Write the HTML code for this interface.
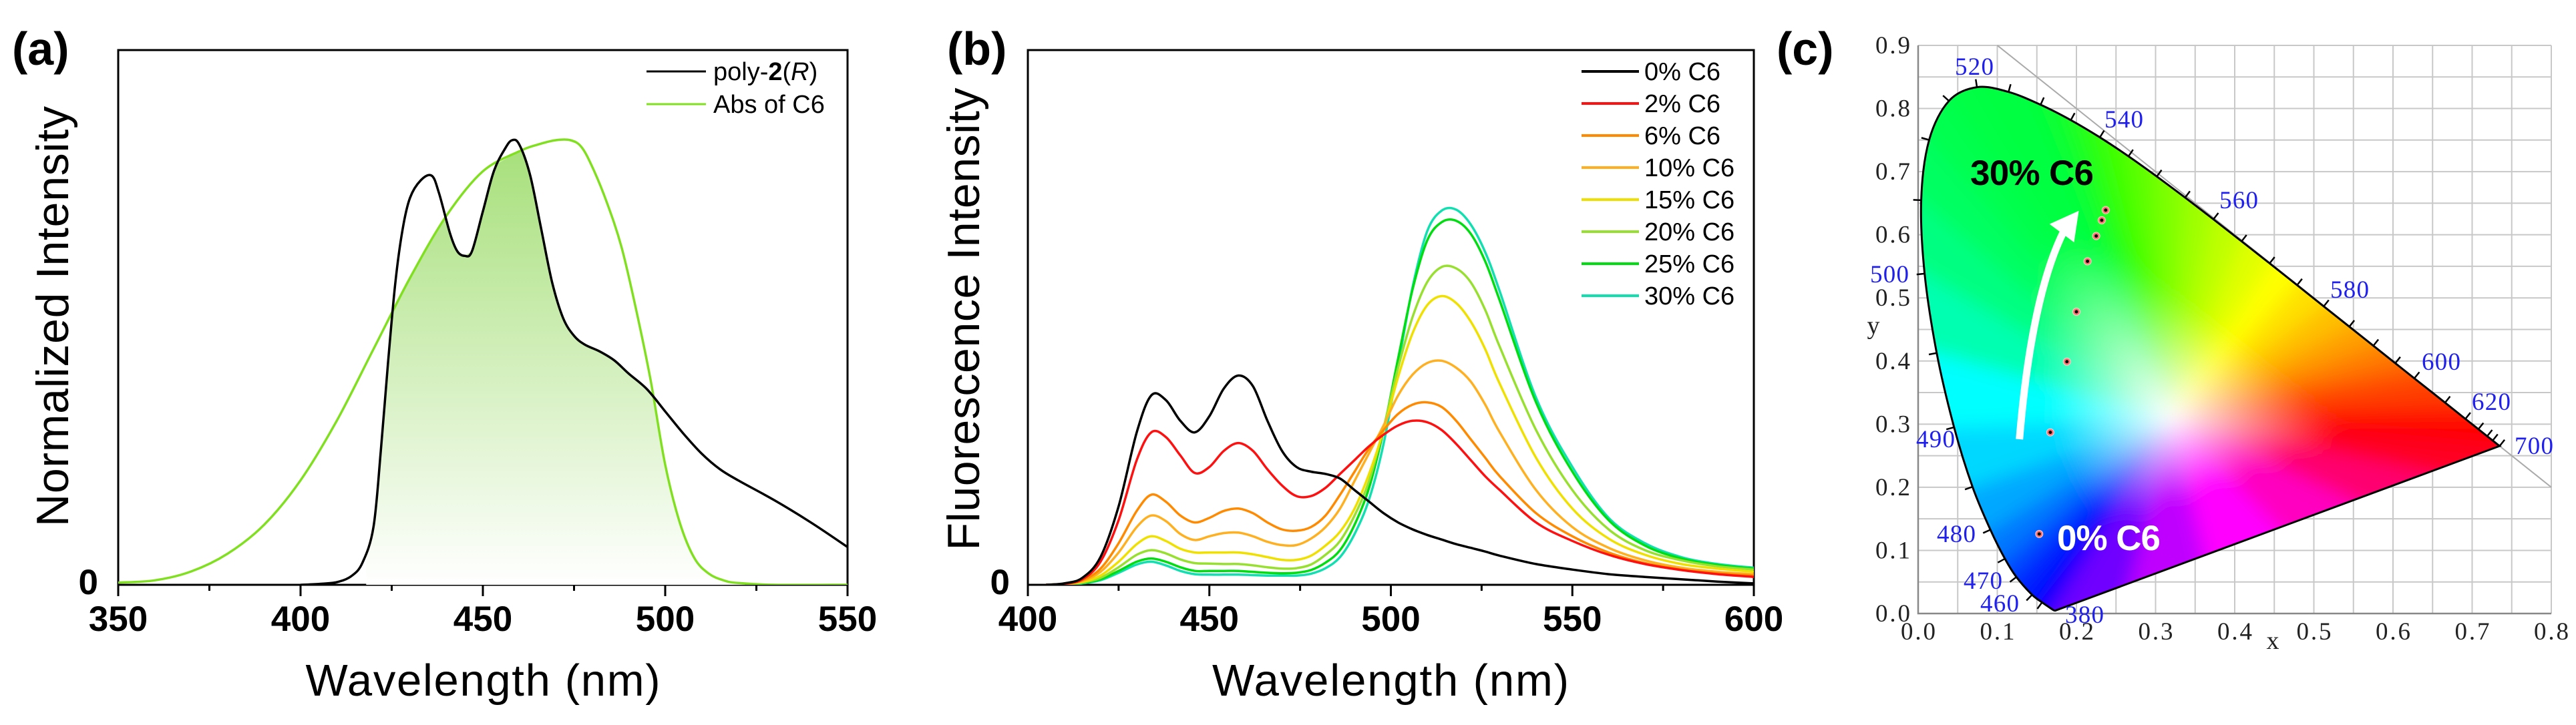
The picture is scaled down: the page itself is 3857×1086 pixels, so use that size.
<!DOCTYPE html>
<html><head><meta charset="utf-8"><style>
html,body{margin:0;padding:0;background:#fff;}
svg{display:block;font-family:"Liberation Sans",Arial,sans-serif;}
.serif{font-family:"Liberation Serif","Times New Roman",serif;}
</style></head><body>
<svg id="fig" width="3857" height="1086" viewBox="0 0 3857 1086" xmlns="http://www.w3.org/2000/svg">
<defs>
<linearGradient id="fillA" x1="0" y1="0" x2="0" y2="1"><stop offset="0" stop-color="#a8e07c"/><stop offset="1" stop-color="#ffffff"/></linearGradient>
<clipPath id="clipA"><rect x="177" y="75" width="1092" height="801"/></clipPath>
<clipPath id="clipB"><rect x="1539" y="75" width="1087" height="801"/></clipPath>
<filter id="blurC" x="-20%" y="-20%" width="140%" height="140%"><feGaussianBlur stdDeviation="14"/></filter>
<clipPath id="clipLocus"><path id="locusClipPath" d=""/></clipPath>
</defs>

<!-- Panel a -->
<g id="panelA">
<text x="18" y="97" font-size="70" font-weight="bold">(a)</text>
<rect x="177" y="75" width="1092" height="801" fill="none" stroke="#000" stroke-width="3"/>
<g id="fillLayerA" clip-path="url(#clipA)"></g>
<g id="seriesA" clip-path="url(#clipA)"></g>
<g id="ticksA"></g>
<text x="147" y="890" font-size="53" font-weight="bold" text-anchor="end">0</text>
<text x="723" y="1042" font-size="67" text-anchor="middle" textLength="531">Wavelength (nm)</text>
<text transform="translate(102,474) rotate(-90)" font-size="68" text-anchor="middle" textLength="630">Normalized Intensity</text>
<g>
<line x1="968" y1="107" x2="1057" y2="107" stroke="#000" stroke-width="3"/>
<text x="1068" y="120" font-size="38">poly-<tspan font-weight="bold">2</tspan>(<tspan font-style="italic">R</tspan>)</text>
<line x1="968" y1="156" x2="1057" y2="156" stroke="#80e020" stroke-width="3"/>
<text x="1068" y="169" font-size="38">Abs of C6</text>
</g>
</g>

<!-- Panel b -->
<g id="panelB">
<text x="1418" y="97" font-size="70" font-weight="bold">(b)</text>
<rect x="1539" y="75" width="1087" height="801" fill="none" stroke="#000" stroke-width="3"/>
<g id="seriesB" clip-path="url(#clipB)"></g>
<g id="ticksB"></g>
<text x="1512" y="890" font-size="53" font-weight="bold" text-anchor="end">0</text>
<text x="2082" y="1042" font-size="67" text-anchor="middle" textLength="534">Wavelength (nm)</text>
<text transform="translate(1466,478) rotate(-90)" font-size="68" text-anchor="middle" textLength="693">Fluorescence Intensity</text>
<g id="legendB"></g>
</g>

<!-- Panel c -->
<g id="panelC">
<text x="2660" y="97" font-size="70" font-weight="bold">(c)</text>
<g id="gridC"></g>
<g clip-path="url(#clipLocus)"><g id="cieFill" filter="url(#blurC)"></g></g>
<g id="cieOutline"></g>
<g id="cieTicks"></g>
<g id="cieLabels" class="serif"></g>
<g id="cieAxisLabels" class="serif"></g>
<g id="cieAnnot"></g>
</g>
</svg>
<script>
var NS='http://www.w3.org/2000/svg';
function mk(tag,attrs,parent){var e=document.createElementNS(NS,tag);for(var k in attrs)e.setAttribute(k,attrs[k]);if(parent)parent.appendChild(e);return e;}
function smooth(pts){var d='M'+pts[0][0].toFixed(1)+','+pts[0][1].toFixed(1);
 for(var i=0;i<pts.length-1;i++){var p0=pts[i-1]||pts[i],p1=pts[i],p2=pts[i+1],p3=pts[i+2]||p2;
  var c1=[p1[0]+(p2[0]-p0[0])/6,p1[1]+(p2[1]-p0[1])/6],c2=[p2[0]-(p3[0]-p1[0])/6,p2[1]-(p3[1]-p1[1])/6];
  d+=' C'+c1[0].toFixed(1)+','+c1[1].toFixed(1)+' '+c2[0].toFixed(1)+','+c2[1].toFixed(1)+' '+p2[0].toFixed(1)+','+p2[1].toFixed(1);}
 return d;}
function interp(xs,ys,x){if(x<=xs[0])return ys[0];for(var i=0;i<xs.length-1;i++){if(x<=xs[i+1]){var t=(x-xs[i])/(xs[i+1]-xs[i]);return ys[i]+t*(ys[i+1]-ys[i]);}}return ys[ys.length-1];}
</script>
<script>
// ---------- Panel (a) data ----------
var wlPoly=[400,405,410,414,417,420,422,424,426,428,430,433,436,438,441,443,445,447,450,453,456,458,460,463,466,469,472,475,478,482,486,490,495,500,505,510,515,520,530,540,550];
var valPoly=[0,0.002,0.006,0.02,0.05,0.13,0.3,0.5,0.68,0.8,0.87,0.91,0.92,0.88,0.79,0.75,0.74,0.75,0.84,0.93,0.98,1.0,0.99,0.92,0.8,0.68,0.6,0.56,0.54,0.525,0.505,0.475,0.44,0.39,0.34,0.295,0.26,0.235,0.19,0.14,0.085];
var wlAbs=[350,360,370,380,390,400,410,420,430,440,450,460,465,470,474,477,480,484,488,492,496,500,504,508,512,516,520,530,550];
var valAbs=[0.005,0.01,0.03,0.07,0.135,0.235,0.37,0.53,0.69,0.83,0.93,0.975,0.99,1.0,1.0,0.985,0.94,0.86,0.76,0.62,0.46,0.27,0.14,0.06,0.025,0.01,0.004,0,0];
var ticksA=[350,400,450,500,550];
function xA(w){return 177+(w-350)*1092/200;}
function yA(v){return 876-v*666;}
(function(){
 var g=document.getElementById('seriesA'),fl=document.getElementById('fillLayerA'),tk=document.getElementById('ticksA');
 var pts=[];for(var w=418;w<=522;w+=0.5){pts.push([xA(w),yA(Math.min(interp(wlPoly,valPoly,w),interp(wlAbs,valAbs,w)))]);}
 var d='M'+xA(418)+','+yA(0)+' L'+pts.map(function(p){return p[0].toFixed(1)+','+p[1].toFixed(1);}).join(' L')+' L'+xA(522)+','+yA(0)+' Z';
 var f=mk('path',{d:d,fill:'url(#fillA)'},fl);
 
 
 var pa=mk('path',{d:smooth(wlAbs.map(function(w,i){return [xA(w),yA(valAbs[i])];})),fill:'none',stroke:'#80e020','stroke-width':3.5},g);
 
 
 var pp=mk('path',{d:smooth(wlPoly.map(function(w,i){return [xA(w),yA(valPoly[i])];})),fill:'none',stroke:'#000','stroke-width':3.5},g);
 
 
 var b0=mk('line',{x1:xA(350),y1:yA(0),x2:xA(400),y2:yA(0),stroke:'#000','stroke-width':3},g);
 
 
 for(var w=350;w<=550;w+=25){var major=(w%50===0);
  var l=mk('line',{x1:xA(w),y1:876,x2:xA(w),y2:876+(major?17:9),stroke:'#000','stroke-width':3},tk);
  
  }
 ticksA.forEach(function(w){var t=mk('text',{x:xA(w),y:945,'font-size':53,'font-weight':'bold','text-anchor':'middle'},tk);t.textContent=String(w);
  
  });
})();
</script>
<script>
// ---------- Panel (b) data ----------
var wlB=[405,410,415,420,425,430,434,438,442,446,450,454,458,462,466,470,474,478,482,486,490,494,498,502,506,510,514,518,522,526,530,540,550,560,570,580,590,600];
var c0=[0,3,15,60,170,330,410,400,355,330,365,425,453,430,355,290,255,245,240,230,205,180,155,135,120,108,98,88,80,72,63,45,33,23,17,12,7,3];
var c2=[0,2,12,50,140,270,330,320,280,242,255,290,307,290,250,215,192,192,210,240,270,300,325,345,355,352,335,305,270,235,205,135,95,65,45,32,23,17];
var c6=[0,2,10,35,90,160,195,180,150,135,145,160,165,155,135,120,117,125,150,195,245,295,335,370,390,395,385,355,315,275,235,155,105,70,47,33,25,20];
var c10=[0,2,8,28,70,125,150,138,110,97,105,112,113,105,93,86,86,100,125,165,225,285,345,410,455,480,485,470,440,390,330,205,125,80,53,37,28,23];
var c15=[0,2,6,20,50,88,105,95,78,70,70,70,70,66,60,54,54,63,85,115,165,240,335,450,545,605,625,610,570,510,435,275,165,100,65,45,35,28];
var c20=[0,1,5,15,38,65,75,68,55,47,46,45,45,42,38,35,36,44,65,95,150,225,340,470,580,655,688,685,655,595,515,335,205,120,75,53,40,33];
var c25=[0,1,4,12,30,50,57,50,38,30,30,30,30,28,26,25,26,32,48,75,130,210,335,490,640,745,785,788,760,700,615,395,245,140,85,57,43,35];
var c30=[0,1,3,10,26,44,50,42,30,23,22,22,22,21,20,20,20,24,36,60,110,185,305,475,645,765,810,812,780,720,635,405,255,145,90,60,45,37];
var seriesNamesB=['0% C6','2% C6','6% C6','10% C6','15% C6','20% C6','25% C6','30% C6'];
var ticksB=[400,450,500,550,600];
var colorsB=['#000000','#ff1010','#ff8a00','#ffb020','#f0e000','#98e030','#00dd10','#10e0b0'];
function xB(w){return 1539+(w-400)*1087/200;}
function yB(v){return 876-v*0.692;}
(function(){
 var g=document.getElementById('seriesB'),tk=document.getElementById('ticksB'),lg=document.getElementById('legendB');
 var all=[c0,c2,c6,c10,c15,c20,c25,c30];
 for(var s=all.length-1;s>=0;s--){var vals=all[s];
  var p=mk('path',{d:smooth(wlB.map(function(w,i){return [xB(w),yB(vals[i])];})),fill:'none',stroke:colorsB[s],'stroke-width':3.5},g);
  
  }
 for(var w=400;w<=600;w+=25){var major=(w%50===0);
  var l=mk('line',{x1:xB(w),y1:876,x2:xB(w),y2:876+(major?17:9),stroke:'#000','stroke-width':3},tk);
  
  }
 ticksB.forEach(function(w){var t=mk('text',{x:xB(w),y:945,'font-size':53,'font-weight':'bold','text-anchor':'middle'},tk);t.textContent=String(w);
  
  });
 seriesNamesB.forEach(function(n,i){var y=107+i*48;
  var l=mk('line',{x1:2368,y1:y,x2:2454,y2:y,stroke:colorsB[i],'stroke-width':4},lg);
  
  
  var t=mk('text',{x:2462,y:y+13,'font-size':38},lg);t.textContent=n;
  
  });
})();
</script>
<script>
// ---------- Panel (c) data ----------
var locusWl=[380,420,440,450,460,470,475,480,485,490,495,500,505,510,515,520,525,530,535,540,545,550,555,560,565,570,575,580,585,590,595,600,610,620,630,640,650,700];
var locusX=[0.1741,0.1714,0.1644,0.1566,0.1440,0.1241,0.1096,0.0913,0.0687,0.0454,0.0235,0.0082,0.0039,0.0139,0.0389,0.0743,0.1142,0.1547,0.1929,0.2296,0.2658,0.3016,0.3373,0.3731,0.4087,0.4441,0.4788,0.5125,0.5448,0.5752,0.6029,0.6270,0.6658,0.6915,0.7079,0.7190,0.7260,0.7347];
var locusY=[0.0050,0.0051,0.0109,0.0177,0.0297,0.0578,0.0868,0.1327,0.2007,0.2950,0.4127,0.5384,0.6548,0.7502,0.8120,0.8338,0.8262,0.8059,0.7816,0.7543,0.7243,0.6923,0.6589,0.6245,0.5896,0.5547,0.5202,0.4866,0.4544,0.4242,0.3965,0.3725,0.3340,0.3083,0.2920,0.2809,0.2740,0.2653];
var segColors=['#4800ff','#2800ff','#1000ff','#0000ff','#0020ff','#0048ff','#0078ff','#00a8ff','#00d8ff','#00ffff','#00ffb0','#00ff80','#00ff60','#00ff50','#00ff45','#00ff40','#00ff40','#10ff30','#28ff18','#40ff00','#60ff00','#80ff00','#a0ff00','#c0ff00','#e0ff00','#ffff00','#ffe000','#ffc000','#ffa000','#ff8000','#ff6000','#ff4000','#ff2000','#ff0000','#ff0000','#ff0000','#ff0000'];
var purpleColors=['#ff0020','#ff0070','#ff00c0','#ff00ff','#c000ff','#7000ff'];
var sampleX=[0.153,0.167,0.188,0.200,0.214,0.225,0.232,0.237];
var sampleY=[0.126,0.287,0.399,0.478,0.558,0.598,0.623,0.639];
var labelWl=[380,460,470,480,490,500,520,540,560,580,600,620,700];
var labelPosX=[3121,2994,2969,2929,2898,2829,2956,3180,3352,3518,3655,3730,3794];
var labelPosY=[921,904,870,800,658,411,100,179,300,434,542,602,668];
var axisTicksX=[0,0.1,0.2,0.3,0.4,0.5,0.6,0.7,0.8];
var axisTicksY=[0,0.1,0.2,0.3,0.4,0.5,0.6,0.7,0.8,0.9];
var WP=[0.32,0.31];
function cx(x){return 2872+x*1185;}
function cy(y){return 919-y*945.6;}
(function(){
 var grid=document.getElementById('gridC');
 for(var v=0;v<=16;v++){var x=v*0.05;
  var l=mk('line',{x1:cx(x),y1:cy(0),x2:cx(x),y2:cy(0.9),stroke:'#c8c8c8','stroke-width':2},grid);
  
  }
 for(var v=0;v<=18;v++){var y=v*0.05;
  var l=mk('line',{x1:cx(0),y1:cy(y),x2:cx(0.8),y2:cy(y),stroke:'#c8c8c8','stroke-width':2},grid);
  
  }
 var ax=mk('path',{d:'M'+cx(0)+','+cy(0.9)+' L'+cx(0)+','+cy(0)+' L'+cx(0.8)+','+cy(0),fill:'none',stroke:'#888','stroke-width':2.5},grid);
 
 
 var dg=mk('line',{x1:cx(0.1),y1:cy(0.9),x2:cx(0.8),y2:cy(0.2),stroke:'#aaa','stroke-width':2},grid);
 
 

 var al=document.getElementById('cieAxisLabels');
 axisTicksX.forEach(function(x){var t=mk('text',{x:cx(x),y:958,'font-size':37,'text-anchor':'middle',textLength:52,fill:'#222'},al);t.textContent=x.toFixed(1);
  
  });
 axisTicksY.forEach(function(y){var t=mk('text',{x:2860,y:cy(y)+12,'font-size':37,'text-anchor':'end',textLength:52,fill:'#222'},al);t.textContent=y.toFixed(1);
  
  });
 var tx=mk('text',{x:3403,y:972,'font-size':38,'text-anchor':'middle',fill:'#222'},al);tx.textContent='x';
 
 
 var ty=mk('text',{x:2805,y:500,'font-size':38,'text-anchor':'middle',fill:'#222'},al);ty.textContent='y';
 
 

 var fg=document.getElementById('cieFill'),defs=document.querySelector('defs');
 var W=[cx(WP[0]),cy(WP[1])];
 var gid=0;
 function ext(p){return [W[0]+(p[0]-W[0])*1.25,W[1]+(p[1]-W[1])*1.25];}
 function tri(a,b,col){
  var m=[(a[0]+b[0])/2,(a[1]+b[1])/2];
  var id='cg'+(gid++);
  var lg=mk('linearGradient',{id:id,gradientUnits:'userSpaceOnUse',x1:W[0],y1:W[1],x2:m[0],y2:m[1]},defs);
  mk('stop',{offset:0,'stop-color':'#ffffff'},lg);
  mk('stop',{offset:0.55,'stop-color':col},lg);
  mk('stop',{offset:1,'stop-color':col},lg);
  var A=ext(a),B=ext(b);
  var p=mk('polygon',{points:W.join(',')+' '+A.join(',')+' '+B.join(','),fill:'url(#'+id+')',stroke:'url(#'+id+')','stroke-width':1.5},fg);
  
  
 }
 var P=locusWl.map(function(w,i){return [cx(locusX[i]),cy(locusY[i])];});
 for(var i=0;i<P.length-1;i++)tri(P[i],P[i+1],segColors[i]);
 var A=P[P.length-1],B=P[0],n=purpleColors.length;
 for(var k=0;k<n;k++){var t0=k/n,t1=(k+1)/n;
  tri([A[0]+(B[0]-A[0])*t0,A[1]+(B[1]-A[1])*t0],[A[0]+(B[0]-A[0])*t1,A[1]+(B[1]-A[1])*t1],purpleColors[k]);}
 var locD=smooth(P)+' Z';
 document.getElementById('locusClipPath').setAttribute('d',locD);
 var outline=mk('path',{d:locD,fill:'none',stroke:'#000','stroke-width':3},document.getElementById('cieOutline'));
 
 

 var tk=document.getElementById('cieTicks');
 for(var i=1;i<P.length;i++){if(locusWl[i]<=440)continue;
  var p0=P[i-1],p1=P[i],p2=P[Math.min(i+1,P.length-1)];
  var dx=p2[0]-p0[0],dy=p2[1]-p0[1],L=Math.hypot(dx,dy)||1;var nx=dy/L,ny=-dx/L;
  if((p1[0]-W[0])*nx+(p1[1]-W[1])*ny<0){nx=-nx;ny=-ny;}
  var l=mk('line',{x1:p1[0],y1:p1[1],x2:p1[0]+nx*12,y2:p1[1]+ny*12,stroke:'#000','stroke-width':2.5},tk);
  
  }

 var lb=document.getElementById('cieLabels');
 labelWl.forEach(function(w,i){var t=mk('text',{x:labelPosX[i],y:labelPosY[i]+12,'font-size':37,'text-anchor':'middle',textLength:58,fill:'#2020ee'},lb);t.textContent=String(w);
  
  });

 var an=document.getElementById('cieAnnot');
 var arrow=mk('path',{d:'M'+cx(0.128)+','+cy(0.276)+' Q'+cx(0.143)+','+cy(0.5)+' '+cx(0.183)+','+cy(0.603),fill:'none',stroke:'#fff','stroke-width':11},an);
 
 
 var head=mk('polygon',{points:cx(0.203)+','+cy(0.638)+' '+cx(0.166)+','+cy(0.617)+' '+cx(0.197)+','+cy(0.588),fill:'#fff'},an);
 
 
 sampleX.forEach(function(x,i){
  var c=mk('circle',{cx:cx(x),cy:cy(sampleY[i]),r:5.5,fill:'#ff7070',stroke:'#ffd0d0','stroke-width':1},an);
  
  
  var c2=mk('circle',{cx:cx(x),cy:cy(sampleY[i]),r:2.5,fill:'#000'},an);
  
  });
 var t1=mk('text',{x:2950,y:277,'font-size':53,'font-weight':'bold',fill:'#000',textLength:185},an);t1.textContent='30% C6';
 
 
 var t2=mk('text',{x:3080,y:824,'font-size':53,'font-weight':'bold',fill:'#fff',textLength:155},an);t2.textContent='0% C6';
 
 
})();
</script>
</body></html>
